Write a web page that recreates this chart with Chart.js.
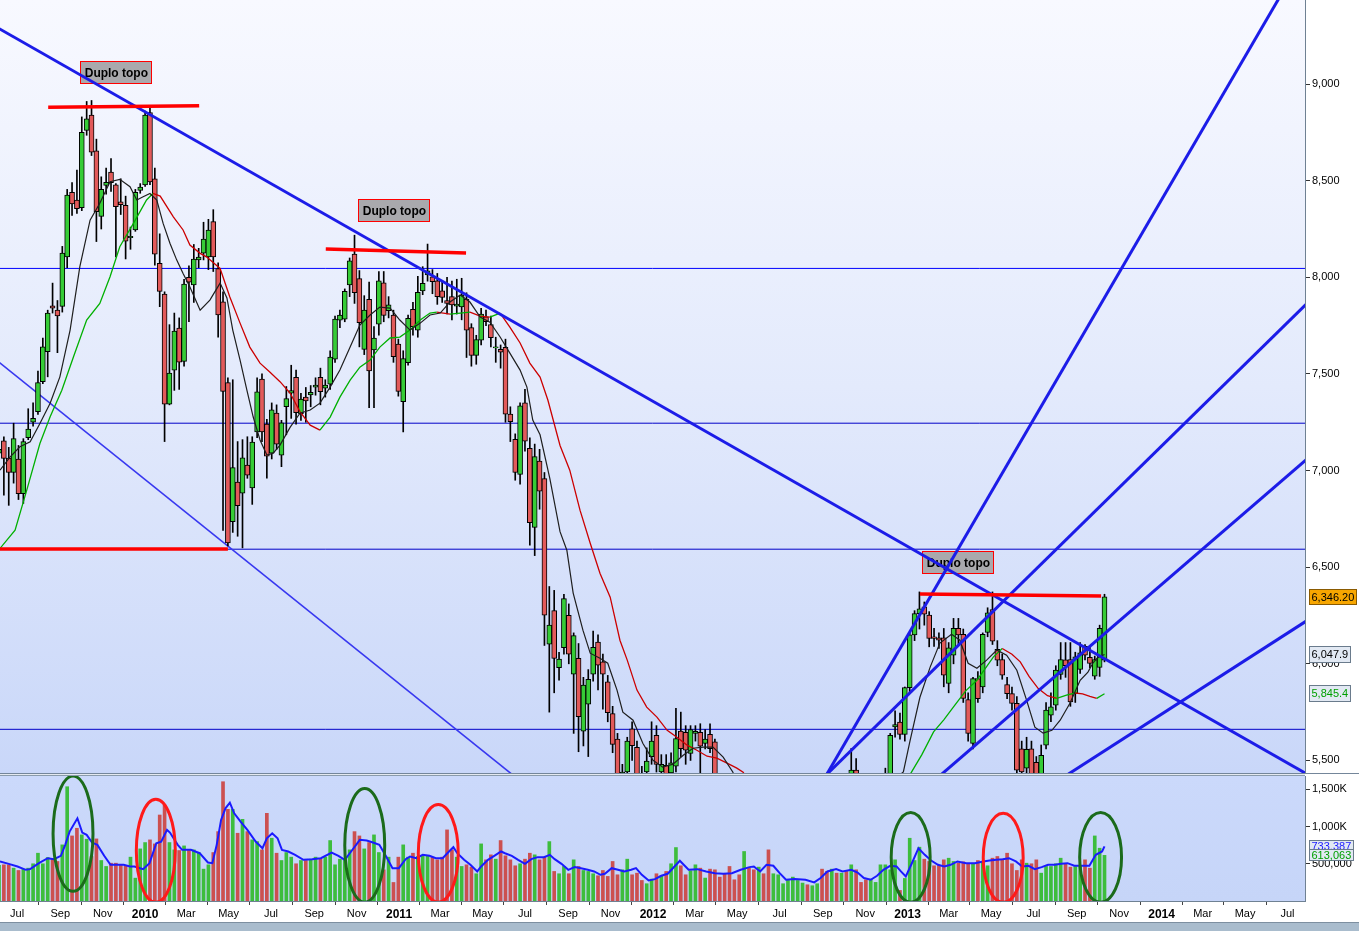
<!DOCTYPE html>
<html><head><meta charset="utf-8">
<script src="https://cdn.jsdelivr.net/npm/chart.js@4.4.1/dist/chart.umd.min.js"></script>
<style>
html,body{margin:0;padding:0;background:#ffffff;width:1359px;height:931px;overflow:hidden;}
#wrap{position:relative;width:1359px;height:931px;}
#main{position:absolute;left:0;top:0;}
#vol{position:absolute;left:0;top:773px;}
#strip{position:absolute;left:0;top:922px;width:1359px;height:9px;background:#a9bccd;border-top:1px solid #7d8fa0;box-sizing:border-box;}
</style></head>
<body><div id="wrap"><canvas id="main" width="1359" height="773"></canvas><canvas id="vol" width="1359" height="149"></canvas><div id="strip"></div></div>
<script>
// ---------- DATA (weekly candles, index 0 = week of 2009-06-05) ----------
const START_DATE = '2009-06-05';
const openP = [7090,7154,7065,6990,7060,6880,7170,7250,7305,7460,7615,7852,7830,7850,8105,8440,8400,8360,8760,8840,
8655,8315,8475,8545,8478,8390,8372,8205,8245,8450,8478,8852,8510,8072,7913,7344,7520,7737,7565,8000,
7960,8090,8125,8106,8288,8045,7873,7455,6735,6940,6883,7028,6910,7200,7473,7240,7090,7297,7080,7330,
7400,7483,7295,7380,7392,7432,7483,7427,7447,7577,7778,7784,7960,8120,7993,7627,7886,7624,7758,7972,
7828,7805,7655,7356,7558,7834,7727,7930,8012,8003,7982,7930,7880,7900,7851,7847,7888,7740,7596,7675,
7796,7756,7635,7627,7638,7292,7161,6980,7350,7115,6706,7049,6958,6102,6275,5980,6084,6251,5947,6028,
5651,5791,5947,6112,6010,5907,5742,5610,5430,5440,5664,5568,5420,5440,5520,5630,5440,5475,5435,5470,
5652,5645,5536,5640,5645,5588,5635,5596,5400,5200,5050,4950,4700,4600,4750,4650,4550,4700,4600,4450,
4550,4750,4850,4900,4950,5050,5150,5100,5250,5350,5200,5150,5300,5250,5350,5330,5450,5400,5280,5200,
5250,5330,5400,5420,5674,5698,5635,5877,6150,6260,6295,6252,6140,6134,6134,5898,6045,6183,6153,5815,
5588,5924,5880,6162,6281,6075,6022,5893,5846,5795,5560,5460,5560,5490,5400,5579,5734,5786,5945,6020,
6022,5847,5971,6091,6033,5936,5981,6019];
const highP = [7160,7175,7120,7245,7130,7165,7320,7350,7515,7685,7830,7970,7880,8160,8455,8490,8555,8830,8910,8915,
8715,8520,8565,8615,8485,8510,8420,8260,8455,8485,8860,8880,8565,8225,7925,7755,7815,7790,7990,8060,
8170,8150,8285,8300,8350,8075,7925,7480,7470,7150,7160,7175,7175,7480,7500,7265,7350,7340,7260,7435,
7545,7520,7400,7430,7440,7480,7530,7470,7620,7800,7830,7940,8100,8218,8035,7905,7975,7745,8030,8030,
7900,7830,7680,7620,7805,7870,8005,8055,8172,8040,8020,7980,8000,7980,7990,7995,7920,7760,7700,7840,
7830,7800,7690,7650,7680,7330,7190,7350,7420,7170,7137,7110,6990,6400,6380,6060,6360,6310,6160,6105,
5930,5970,6170,6150,6050,5940,5780,5640,5480,5620,5700,5600,5470,5565,5700,5680,5530,5530,5540,5770,
5750,5680,5680,5680,5690,5660,5690,5610,5420,5260,5100,4980,4750,4800,4780,4700,4750,4720,4620,4600,
4780,4880,4950,5000,5080,5180,5200,5280,5380,5370,5230,5330,5340,5380,5400,5562,5510,5420,5300,5280,
5350,5420,5460,5640,5757,5745,5880,6160,6275,6372,6320,6270,6183,6160,6183,6110,6235,6235,6180,5850,
5930,5960,6160,6290,6372,6120,6050,5930,5880,5830,5600,5620,5600,5520,5580,5800,5850,5990,6110,6110,
6110,6060,6110,6100,6090,6040,6200,6360];
const lowP = [7050,6873,6820,6935,6850,6830,7160,7230,7290,7450,7485,7815,7610,7820,8050,8320,8330,8345,8735,8630,
8185,8250,8430,8445,8105,8325,8095,8145,8238,8435,8470,8480,8063,7848,7150,7340,7415,7420,7540,7770,
7870,8050,8090,8040,8030,7690,6690,6610,6680,6660,6600,6960,6825,7170,7150,6960,7060,7110,7020,7185,
7270,7240,7260,7250,7330,7390,7340,7380,7420,7560,7740,7770,7900,7865,7640,7600,7325,7325,7700,7770,
7790,7560,7385,7200,7545,7700,7690,7910,7980,7915,7860,7870,7810,7780,7810,7780,7585,7540,7550,7650,
7750,7640,7560,7530,7250,7150,6950,6930,7100,6614,6560,6800,6095,5750,5850,5915,6050,6000,5640,5545,
5575,5520,5910,5865,5765,5700,5540,5380,5330,5400,5500,5400,5300,5380,5480,5440,5380,5380,5400,5440,
5520,5480,5500,5600,5430,5560,5540,5350,5150,5000,4880,4650,4500,4580,4600,4500,4520,4560,4400,4420,
4530,4700,4800,4860,4920,5000,5050,5080,5220,5150,5080,5130,5200,5230,5280,5300,5350,5250,5150,5180,
5230,5300,5360,5400,5620,5610,5600,5850,6120,6180,6200,6088,6090,6080,5881,5850,6000,6100,5800,5600,
5560,5800,5850,6140,6100,5990,5920,5820,5760,5400,5380,5400,5350,5320,5380,5560,5700,5760,5920,5930,
5780,5800,5950,6020,5980,5920,5935,6010];
const closeP = [7110,7063,6990,7165,6880,7150,7215,7270,7455,7640,7815,7840,7800,8125,8425,8380,8355,8750,8820,8648,
8340,8455,8492,8490,8365,8376,8187,8212,8440,8467,8840,8494,8120,7927,7344,7505,7722,7561,7965,7975,
8095,8105,8198,8245,8106,7805,7410,6625,7015,6818,7066,6976,7147,7408,7200,7075,7314,7137,7247,7372,
7414,7300,7370,7361,7405,7442,7408,7442,7587,7784,7805,7928,8085,7920,7765,7831,7515,7686,7982,7803,
7857,7590,7410,7580,7788,7744,7922,7969,8033,7977,7900,7896,7865,7857,7861,7908,7727,7596,7678,7810,
7770,7688,7640,7613,7292,7253,6990,7335,7152,6730,7072,6893,6252,6200,6028,6025,6338,6050,6146,5726,
5890,5920,6085,5993,5947,5747,5583,5430,5440,5600,5576,5430,5380,5497,5600,5479,5480,5430,5487,5613,
5561,5553,5660,5650,5574,5610,5561,5400,5200,5050,4950,4700,4600,4750,4650,4550,4700,4600,4450,4550,
4750,4850,4900,4950,5050,5150,5100,5250,5350,5200,5150,5300,5250,5350,5330,5450,5400,5280,5200,5250,
5330,5400,5420,5630,5686,5635,5877,6150,6260,6285,6257,6131,6131,6122,5941,6083,6183,6150,5821,5640,
5924,5820,6152,6264,6117,6019,5941,5846,5795,5450,5440,5557,5420,5400,5527,5760,5777,5967,6022,5990,
5803,6036,6057,6045,6002,6022,6183,6346.2];
// weekly volume, thousands
const volumeK = [480,486,486,441,410,428,441,500,642,500,584,562,531,754,1535,874,977,888,830,598,
834,544,464,508,508,486,473,589,307,700,785,821,767,1155,1289,785,687,678,740,687,
687,651,428,486,651,932,1602,1231,1231,910,1097,932,821,798,687,1178,843,642,544,651,
589,500,544,544,562,589,562,589,812,486,562,562,687,932,874,700,785,888,651,419,
589,249,589,754,589,642,598,607,607,589,553,589,955,687,589,464,486,455,366,767,
553,620,562,812,607,553,473,500,562,642,620,553,589,798,397,366,464,366,553,464,
410,397,366,339,410,330,531,352,419,562,352,374,276,232,294,366,339,397,500,718,
473,352,406,486,441,308,428,419,321,366,464,285,352,665,441,419,455,366,687,366,
352,232,285,321,276,241,218,205,232,428,397,428,374,374,397,486,419,250,285,294,
250,486,486,419,553,142,303,843,544,723,562,531,473,477,553,575,531,508,526,500,
508,544,531,473,575,598,562,642,500,410,553,508,500,553,374,464,464,500,575,500,
455,464,464,553,441,874,709,613.063];
// fast moving average (black), read as [week, value]
const maFast = [[0.2,7002],[2.3,7071],[4.3,7123],[6.4,7149],[8.4,7244],[10.5,7348],[12.5,7485],[14.6,7727],[16.6,8055],[18.7,8296],
[20.7,8383],[22.8,8495],[24.8,8507],[26.9,8469],[28.3,8400],[29.6,8417],[31,8434],[32.4,8400],[33.7,8279],[35.1,8176],
[36.5,8089],[37.8,8020],[39.2,7950],[41.3,7830],[43.3,7882],[45.4,7970],[46.8,7893],[48,7727],[49.5,7572],[50.9,7416],
[52.2,7277],[53.6,7158],[55,7080],[56.3,7090],[57.7,7132],[59.8,7225],[61.8,7297],[63.9,7313],[65.9,7349],[68,7432],
[70,7520],[72.1,7639],[74.1,7753],[76.2,7805],[78.2,7846],[80.3,7841],[82.3,7779],[84.4,7727],[86.5,7763],[88.5,7805],
[90.6,7815],[92.6,7872],[94.7,7908],[96.7,7872],[98.8,7794],[100.8,7768],[102.9,7691],[104.9,7608],[107,7520],[108.4,7432],
[109.6,7261],[111.1,7185],[113.1,6960],[115.2,6684],[116.6,6588],[117.9,6366],[119.9,6174],[121.4,6055],[123.4,6029],[125,6003],
[126.9,5864],[128.1,5750],[130.2,5708],[132.2,5589],[134.3,5501],[136.3,5465],[138.4,5481],[140.5,5527],[142.5,5563],[144.6,5569],
[146.6,5569],[148.7,5517],[150.7,5439],[153,5200],[156,4850],[159,4600],[162,4750],[165,5000],[168,5200],[171,5250],
[174,5300],[177,5380],[180,5280],[183,5380],[185.7,5441],[187.1,5605],[189.1,5827],[191.2,5983],[193.2,6107],[195.6,6153],
[197.3,6122],[199,6003],[200.8,5977],[202.8,6019],[204.9,6071],[206.9,6045],[209,5967],[211,5812],[212.7,5672],[214.4,5641],
[216.2,5656],[217.9,5708],[219.9,5796],[222,5915],[223.6,5957],[224.6,6003],[225.5,6030],[227,6047.9]];
// slow moving average (green rising / red falling), read as [week, value]
const maSlow = [[0.2,6597],[3.3,6692],[5.7,6899],[8.4,7140],[10.5,7278],[12.9,7416],[15.3,7589],[18,7779],[20.7,7865],[22.8,8003],
[24.8,8158],[27.6,8279],[30.3,8400],[31.6,8434],[33.1,8420],[35.8,8313],[37.8,8245],[39.2,8167],[41.3,8124],[42.6,8106],
[45.4,8046],[47.4,7898],[49.5,7763],[51.5,7639],[53.6,7556],[55.6,7510],[57.7,7460],[59.8,7400],[61.8,7305],[63.9,7235],
[65.9,7209],[68,7277],[70,7380],[72.1,7468],[74.1,7535],[76.2,7572],[78.2,7639],[80.3,7686],[82.3,7691],[84.4,7727],
[86.5,7779],[88.5,7815],[89.9,7820],[92.6,7810],[94.7,7815],[96.7,7820],[98.8,7799],[100.8,7794],[102.9,7815],[104.9,7742],
[107,7660],[109,7556],[111.1,7484],[112.7,7365],[115.2,7130],[117.2,7002],[119.3,6795],[121.4,6624],[123.4,6469],[125.5,6345],
[127.5,6122],[129,6019],[131,5864],[133,5776],[135.1,5724],[137.2,5656],[139.2,5620],[141.3,5579],[143.3,5553],[145.4,5522],
[147.4,5512],[149.5,5486],[151.5,5460],[152.8,5439],[156,5300],[160,5100],[165,4950],[170,4900],[175,5000],[180,5150],
[184,5300],[187.4,5441],[189.5,5530],[191.9,5648],[194,5710],[196,5777],[198.5,5860],[200.8,5915],[202.5,5975],[204.2,6036],
[206,6079],[208,6050],[209.7,6010],[211.5,5935],[213.4,5872],[215.3,5835],[217.2,5821],[219.2,5838],[221,5849],[222.5,5845],
[224,5832],[225.4,5821],[227,5845.4]];
// volume moving average (blue), thousands, read as [week, value]
const volMa = [[0.2,531],[2,499],[3.8,464],[5.5,419],[6.4,428],[8.2,508],[10,575],[11.3,562],[12.7,607],[13.6,754],
[14.5,932],[16.1,1111],[17.1,919],[18,888],[19.1,785],[20.2,754],[21.6,607],[22.9,486],[24.2,486],[25.6,486],
[26.9,464],[27.8,464],[29.6,428],[30.9,508],[32.3,776],[33.3,798],[34.5,955],[35.1,919],[36.7,754],[37.6,687],
[39.4,687],[41.2,642],[42.9,517],[43.8,508],[44.7,754],[45.6,1089],[46.5,1245],[47.4,1321],[48.3,1178],[49.6,1066],
[51,955],[52.7,798],[54.1,709],[55,843],[56.1,910],[57.2,843],[58.1,687],[59.4,665],[60.8,620],[62.5,553],
[64.3,562],[66.1,575],[68.3,651],[69.7,607],[71,553],[72.3,665],[74.1,821],[75.5,812],[76.8,785],[78.1,754],
[79.5,598],[80.8,441],[82.1,441],[83.5,562],[84.4,598],[85.7,575],[87,620],[88.4,607],[89.7,575],[91.1,575],
[92.4,665],[93.3,723],[94.1,642],[95.5,553],[96.8,486],[98.2,397],[99,464],[100.4,553],[101.7,607],[103.1,665],
[103.9,642],[105.3,607],[106.6,553],[108,499],[109.3,562],[110.6,589],[111.9,589],[113.1,620],[114.1,562],[115.5,499],
[116.9,419],[118.2,455],[119.5,441],[120.9,419],[122.2,397],[123.5,352],[124.4,366],[125.8,441],[127.1,419],[128.4,397],
[129.8,419],[130.8,441],[132,352],[133.4,276],[134.7,294],[136,339],[137.3,366],[138.7,464],[139.8,540],[141.6,419],
[143.4,428],[145.2,397],[147,374],[148.7,366],[150.5,374],[152.3,419],[154.1,455],[155,464],[156.3,397],[157.6,486],
[159,473],[160.3,374],[161.6,285],[163.4,294],[165.6,285],[167.4,250],[168.7,308],[170.1,397],[171.9,428],[173.2,397],
[175,419],[176.3,383],[177.6,308],[179,285],[180.3,339],[181.6,419],[183,473],[184.3,464],[185.2,397],[186.2,330],
[187.4,500],[188.8,709],[190.1,620],[191.4,544],[192.8,486],[194.1,464],[195.4,486],[196.8,531],[198.6,508],[200.4,508],
[202.1,531],[203.4,544],[204.8,553],[206.1,562],[207.4,575],[208.8,531],[210.1,464],[211.4,473],[212.7,428],[214.1,455],
[215.4,486],[216.8,486],[218.1,499],[219.4,508],[220.8,473],[222.1,473],[223.9,473],[225.2,620],[226.5,665],[227,733.387]];

// axis ticks
const priceTicks = [5500,6000,6500,7000,7500,8000,8500,9000];
const volTicks = [500,1000,1500];
const tickDates = ['2009-07-01','2009-09-01','2009-11-01','2010-01-01','2010-03-01','2010-05-01','2010-07-01','2010-09-01','2010-11-01',
'2011-01-01','2011-03-01','2011-05-01','2011-07-01','2011-09-01','2011-11-01','2012-01-01','2012-03-01','2012-05-01','2012-07-01',
'2012-09-01','2012-11-01','2013-01-01','2013-03-01','2013-05-01','2013-07-01','2013-09-01','2013-11-01','2014-01-01','2014-03-01',
'2014-05-01','2014-07-01'];
const tickLabels = ['Jul','Sep','Nov','2010','Mar','May','Jul','Sep','Nov','2011','Mar','May','Jul','Sep','Nov','2012','Mar','May','Jul',
'Sep','Nov','2013','Mar','May','Jul','Sep','Nov','2014','Mar','May','Jul'];

// drawn studies (data coordinates: [week, price])
const hLevels = [8046, 7245, 6593, 5661];
const trendThick = [[[-2,9316],[270,5409]], [[168.1,5347],[263.8,9486]], [[166.7,5347],[271.2,7930]], [[189.8,5347],[271.2,7117]], [[214.5,5347],[271.2,6266]]];
const trendThin = [[[-2,7601],[109,5354]]];
const redLines = [[[10.1,8880],[41.1,8888]], [[67.1,8146],[95.9,8126]], [[189.1,6361],[226.3,6351]], [[-1,6594],[47,6594]]];
const noteLabels = [{x:24.1,y:9060,text:'Duplo topo'},{x:81.2,y:8344,text:'Duplo topo'},{x:197,y:6523,text:'Duplo topo'}];
const volEllipses = [{x:15.2,y:904,rx:4.1,ry:774,c:'#1b6b1b'},{x:32.2,y:674,rx:4.0,ry:692,c:'#ff1a1a'},{x:75.1,y:747,rx:4.1,ry:763,c:'#1b6b1b'},
{x:90.2,y:640,rx:4.1,ry:656,c:'#ff1a1a'},{x:187.2,y:586,rx:4.0,ry:603,c:'#1b6b1b'},{x:206.2,y:580,rx:4.1,ry:598,c:'#ff1a1a'},{x:226.2,y:586,rx:4.3,ry:603,c:'#1b6b1b'}];

// ---------- SETUP ----------
const FONT = '"Liberation Sans", Arial, sans-serif';
const X_MIN = 0.2053, X_MAX = 268.17;
const Y_MIN = 5435, Y_MAX = 9435;
const V_MAX = 1679;
const DAY = 864e5;
const weekOf = d => (Date.parse(d+'T00:00:00Z') - Date.parse(START_DATE+'T00:00:00Z')) / (7*DAY);
const tickWeeks = tickDates.map(weekOf);
const idx = openP.map((_, i) => i);
const isUp = i => closeP[i] >= openP[i];
const GREEN = '#36cc36', RED = '#e25a5a';
const pts = a => a.map(([x, y]) => ({x, y}));
const lineDs = (data, color, width, order) => ({type:'line', data: pts(data), borderColor: color, borderWidth: width, pointRadius: 0, fill: false, tension: 0, order});
const noPad = s => { s.paddingTop = 0; s.paddingBottom = 0; s.paddingLeft = 0; s.paddingRight = 0; };

function tag(ctx, x, yc, text, fill, textColor, border, h) {
  ctx.save();
  ctx.font = '11px ' + FONT;
  const w = Math.ceil(ctx.measureText(text).width) + 5;
  const top = Math.round(yc - h / 2);
  ctx.fillStyle = fill; ctx.fillRect(x, top, w, h);
  ctx.strokeStyle = border; ctx.lineWidth = 1; ctx.strokeRect(x + 0.5, top + 0.5, w - 1, h - 1);
  ctx.fillStyle = textColor; ctx.textBaseline = 'middle'; ctx.textAlign = 'left';
  ctx.fillText(text, x + 2.5, top + h / 2 + 0.5);
  ctx.restore();
}

const mainDeco = {
  id: 'mainDeco',
  beforeDraw(chart) {
    const {ctx, chartArea: a} = chart;
    ctx.save();
    const g = ctx.createLinearGradient(0, a.top, 0, a.bottom);
    g.addColorStop(0, '#f8f9ff'); g.addColorStop(0.5, '#e3eafc'); g.addColorStop(1, '#c9d7f9');
    ctx.fillStyle = g; ctx.fillRect(a.left, a.top, a.right - a.left, a.bottom - a.top);
    ctx.restore();
  },
  beforeDatasetsDraw(chart) {
    const {ctx} = chart; const xs = chart.scales.x, ys = chart.scales.y;
    ctx.save();
    ctx.font = 'bold 12px ' + FONT;
    noteLabels.forEach(l => {
      const cx = xs.getPixelForValue(l.x), cy = ys.getPixelForValue(l.y);
      const w = Math.round(ctx.measureText(l.text).width + 9), h = 23;
      const x0 = Math.round(cx - w / 2), y0 = Math.round(cy - h / 2);
      ctx.fillStyle = '#a9a9ad'; ctx.fillRect(x0, y0, w, h);
      ctx.strokeStyle = '#ff0000'; ctx.lineWidth = 1; ctx.strokeRect(x0 + 0.5, y0 + 0.5, w - 1, h - 1);
      ctx.fillStyle = '#000'; ctx.textAlign = 'center'; ctx.textBaseline = 'middle';
      ctx.fillText(l.text, cx, cy + 1);
    });
    ctx.restore();
  },
  afterDraw(chart) {
    const {ctx} = chart; const ys = chart.scales.y;
    const last = closeP.length - 1;
    const x = chart.chartArea.right + 4;
    tag(ctx, x, ys.getPixelForValue(maFast[maFast.length-1][1]), maFast[maFast.length-1][1].toLocaleString('en-US',{minimumFractionDigits:1,maximumFractionDigits:1}), '#e2e9f3', '#000', '#6a7b8c', 17);
    tag(ctx, x, ys.getPixelForValue(maSlow[maSlow.length-1][1]), maSlow[maSlow.length-1][1].toLocaleString('en-US',{minimumFractionDigits:1,maximumFractionDigits:1}), '#e2e9f3', '#00a000', '#6a7b8c', 17);
    tag(ctx, x, ys.getPixelForValue(closeP[last]), closeP[last].toLocaleString('en-US',{minimumFractionDigits:2,maximumFractionDigits:2}), '#f7a600', '#000', '#8a5a00', 16);
  }
};

const volDeco = {
  id: 'volDeco',
  beforeDraw(chart) {
    const {ctx, chartArea: a} = chart;
    ctx.save();
    ctx.fillStyle = '#e4e9f0'; ctx.fillRect(0, 0, a.right, a.top);
    ctx.fillStyle = '#74869a'; ctx.fillRect(0, 0, 1359, 1);
    const g = ctx.createLinearGradient(0, a.top, 0, a.bottom);
    g.addColorStop(0, '#cbd9fb'); g.addColorStop(1, '#c6d5f8');
    ctx.fillStyle = g; ctx.fillRect(a.left, a.top, a.right - a.left, a.bottom - a.top);
    ctx.fillStyle = '#8a9bab'; ctx.fillRect(0, a.top - 1, a.right, 1);
    ctx.restore();
  },
  afterDatasetsDraw(chart) {
    const {ctx, chartArea: a} = chart; const xs = chart.scales.x, ys = chart.scales.y;
    ctx.save();
    ctx.beginPath(); ctx.rect(a.left, a.top, a.right - a.left, a.bottom - a.top); ctx.clip();
    volEllipses.forEach(e => {
      const cx = xs.getPixelForValue(e.x), cy = ys.getPixelForValue(e.y);
      const rx = xs.getPixelForValue(e.x + e.rx) - cx, ry = cy - ys.getPixelForValue(e.y + e.ry);
      ctx.beginPath(); ctx.ellipse(cx, cy, rx, ry, 0, 0, Math.PI * 2);
      ctx.strokeStyle = e.c; ctx.lineWidth = 3; ctx.stroke();
    });
    ctx.restore();
  },
  afterDraw(chart) {
    const {ctx} = chart; const ys = chart.scales.y;
    const x = chart.chartArea.right + 4;
    const lastMa = volMa[volMa.length - 1][1], lastV = volumeK[volumeK.length - 1];
    tag(ctx, x, ys.getPixelForValue(lastMa), Math.round(lastMa * 1000).toLocaleString('en-US'), '#e2e9f3', '#1a1aff', '#6a7b8c', 12);
    tag(ctx, x, ys.getPixelForValue(lastV), Math.round(lastV * 1000).toLocaleString('en-US'), '#e2e9f3', '#00a000', '#6a7b8c', 12);
  }
};

const commonX = {type: 'linear', min: X_MIN, max: X_MAX, offset: false, grid: {offset: false}};

new Chart(document.getElementById('main'), {
  type: 'bar',
  data: {
    datasets: [
      ...hLevels.map((v, k) => lineDs([[-5, v], [275, v]], k === 0 ? '#0000ff' : '#0000c8', 1, 20)),
      ...trendThin.map(l => lineDs(l, '#3838f0', 1.6, 19)),
      {type: 'bar', data: idx.map(i => ({x: i, y: [lowP[i], highP[i]]})), backgroundColor: '#000', barThickness: 1, grouped: false, order: 12, clip: 0},
      {type: 'bar', data: idx.map(i => ({x: i, y: [openP[i], closeP[i]]})), backgroundColor: idx.map(i => isUp(i) ? GREEN : RED),
        borderColor: '#000', borderWidth: 1, borderSkipped: false, barThickness: 5, minBarLength: 1, grouped: false, order: 11, clip: 0},
      {type: 'line', data: pts(maSlow), borderWidth: 1.3, pointRadius: 0, fill: false, order: 8,
        segment: {borderColor: c => c.p1.parsed.y >= c.p0.parsed.y ? '#00b000' : '#cc0000'}, borderColor: '#00b000'},
      lineDs(maFast, '#1e1e1e', 1.2, 7),
      ...trendThick.map(l => lineDs(l, '#1c1ce8', 3, 4)),
      ...redLines.map(l => lineDs(l, '#ff0000', 3.5, 2))
    ]
  },
  options: {
    responsive: false, animation: false, events: [],
    layout: {padding: 0, autoPadding: false},
    plugins: {legend: {display: false}, tooltip: {enabled: false}},
    scales: {
      x: {...commonX, display: false, afterFit: noPad},
      y: {type: 'linear', position: 'right', min: Y_MIN, max: Y_MAX,
        afterFit(s) { s.width = 54; noPad(s); },
        afterBuildTicks(s) { s.ticks = priceTicks.map(v => ({value: v})); },
        ticks: {callback: v => v.toLocaleString('en-US'), font: {family: FONT, size: 11}, color: '#000', padding: 2},
        grid: {drawOnChartArea: false, drawTicks: true, tickLength: 5, color: '#333'},
        border: {display: true, color: '#6f8193'}}
    }
  },
  plugins: [mainDeco]
});

new Chart(document.getElementById('vol'), {
  type: 'bar',
  data: {
    datasets: [
      lineDs(volMa, '#1a1aff', 2, 1),
      {type: 'bar', data: idx.map(i => ({x: i, y: volumeK[i]})), backgroundColor: idx.map(i => isUp(i) ? '#3dbd3d' : '#cc5050'),
        borderWidth: 0, barThickness: 3, grouped: false, order: 5}
    ]
  },
  options: {
    responsive: false, animation: false, events: [],
    layout: {padding: {top: 3, left: 0, right: 0, bottom: 0}, autoPadding: false},
    plugins: {legend: {display: false}, tooltip: {enabled: false}},
    scales: {
      x: {...commonX, position: 'bottom',
        afterFit(s) { s.height = 21; noPad(s); },
        afterBuildTicks(s) { s.ticks = tickWeeks.map(v => ({value: v})); },
        ticks: {autoSkip: false, maxRotation: 0, minRotation: 0, padding: 2, color: '#000',
          callback: (v, k) => tickLabels[k],
          font: c => /^\d{4}$/.test(tickLabels[c.index]) ? {family: FONT, size: 12, weight: 'bold'} : {family: FONT, size: 11}},
        grid: {drawOnChartArea: false, drawTicks: true, tickLength: 4, color: '#444'},
        border: {display: true, color: '#6f8193'}},
      y: {type: 'linear', position: 'right', min: 0, max: V_MAX,
        afterFit(s) { s.width = 54; noPad(s); },
        afterBuildTicks(s) { s.ticks = volTicks.map(v => ({value: v})); },
        ticks: {callback: v => v >= 1000 ? v.toLocaleString('en-US') + 'K' : (v * 1000).toLocaleString('en-US'), font: {family: FONT, size: 11}, color: '#000', padding: 2},
        grid: {drawOnChartArea: false, drawTicks: true, tickLength: 5, color: '#333'},
        border: {display: true, color: '#6f8193'}}
    }
  },
  plugins: [volDeco]
});
</script>
</body></html>
